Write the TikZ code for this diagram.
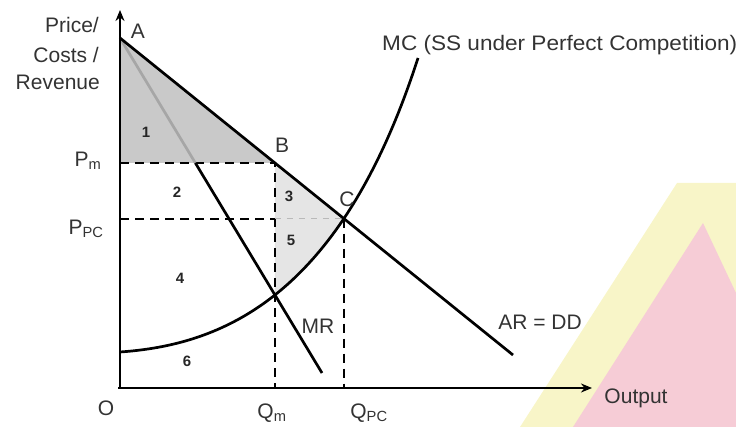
\documentclass[tikz,border=0pt]{standalone}
\usepackage{fontspec}
\setmainfont{Liberation Sans}
\usetikzlibrary{intersections,arrows.meta}
\definecolor{wmyellow}{HTML}{F8F5C8}
\definecolor{wmpink}{HTML}{F6CCD6}
\begin{document}
\begin{tikzpicture}[x=1pt,y=-1pt,
  curve/.style={line width=2.7pt, black},
  axis/.style={line width=2.7pt, black, -{Stealth[length=11pt,width=9pt]}},
  dashline/.style={line width=2.2pt, black, dash pattern=on 9pt off 6pt},
  lbl/.style={font=\fontsize{21}{23}\selectfont, text=black!80, inner sep=0pt},
  num/.style={font=\fontsize{15}{16}\selectfont\bfseries, text=black!85, inner sep=0pt}]
\useasboundingbox (0,0) rectangle (736,427);
% faint watermark shapes
\fill[wmyellow] (520,427) -- (677,183) -- (736,183) -- (736,427) -- cycle;
\fill[wmpink] (573,427) -- (703,223) -- (736,293) -- (736,427) -- cycle;
% basic points and paths
\coordinate (O) at (120,388);
\coordinate (A) at (120,38);
\coordinate (ARend) at (513,355);
\coordinate (MRend) at (322,373);
\coordinate (MCstart) at (120,352);
\coordinate (MCend) at (418,58);
\path[name path=AR] (A) -- (ARend);
\path[name path=MR] (A) -- (MRend);
\path[name path=MC] (MCstart) .. controls (220,345) and (340,300) .. (MCend);
\path[name intersections={of=MR and MC, by=E}];
\path[name intersections={of=AR and MC, by=C}];
\path[name path=vq] (E) ++(0,-400) -- ++(0,800);
\path[name intersections={of=AR and vq, by=B}];
\path[name path=pm] (O |- B) -- (B);
\path[name intersections={of=MR and pm, by=M}];
% shaded areas
\fill[gray!42] (A) -- (B) -- (O |- B) -- cycle;
\begin{scope}
  \clip (MCstart) .. controls (220,345) and (340,300) .. (MCend) -- (120,58) -- cycle;
  \fill[gray!20] (B) -- (C) -- (C |- E) -- (E) -- cycle;
\end{scope}
% dashed guides
\draw[dashline] (O |- B) -- (B) -- (B |- O);
\draw[dashline] (O |- C) -- (B |- C);
\draw[line width=1.6pt, gray!55, dash pattern=on 6pt off 6pt] (B |- C) -- (C);
\draw[dashline] (C) -- (C |- O);
% curves
\draw[curve, gray!70] (A) -- (M);
\draw[curve] (M) -- (MRend);
\draw[curve] (A) -- (ARend);
\draw[curve] (MCstart) .. controls (220,345) and (340,300) .. (MCend);
% axes
\draw[axis] (O) -- (120,10);
\draw[axis] (118,388) -- (592,388);
% labels
\node[lbl, anchor=east] (ylab1) at (99,25) {Price/};
\node[lbl, anchor=east] (ylab2) at (99,55) {Costs /};
\node[lbl, anchor=east] (ylab3) at (100,82) {Revenue};
\node[lbl] (lA) at (138,31) {A};
\node[lbl] (lB) at (282,145) {B};
\node[lbl] (lC) at (347,199) {C};
\node[lbl] (lPm) at (88,161) {P\textsubscript{m}};
\node[lbl] (lPpc) at (86,229) {P\textsubscript{PC}};
\node[lbl] (lO) at (106,408) {O};
\node[lbl] (lQm) at (272,413) {Q\textsubscript{m}};
\node[lbl] (lQpc) at (369,413) {Q\textsubscript{PC}};
\node[lbl] (lMR) at (318,326) {MR};
\node[lbl] (lAR) at (540,322) {AR = DD};
\node[lbl, anchor=west] (lMC) at (382,45) {\scalebox{1.075}[1]{MC (SS under Perfect Competition)}};
\node[lbl] (lOut) at (636,398) {Output};
\node[num] (n1) at (146,132) {1};
\node[num] (n2) at (177,192) {2};
\node[num] (n3) at (289,196) {3};
\node[num] (n4) at (180,278) {4};
\node[num] (n5) at (291,240) {5};
\node[num] (n6) at (187,361) {6};
\end{tikzpicture}
\end{document}
